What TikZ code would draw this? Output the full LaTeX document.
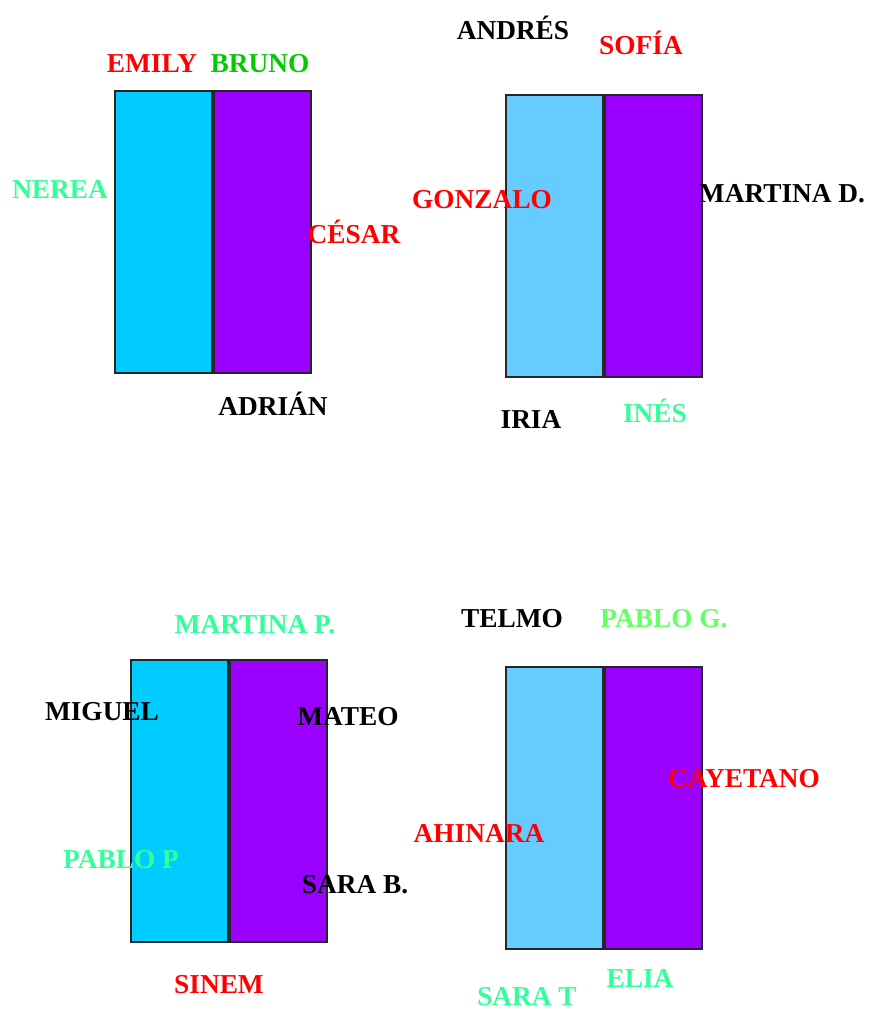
\documentclass[tikz,border=0pt]{standalone}
\usepackage{fontspec}
\setmainfont{Liberation Serif}
\usetikzlibrary{positioning}
\definecolor{deskcyan}{RGB}{0,204,255}
\definecolor{desksky}{RGB}{102,204,255}
\definecolor{deskviolet}{RGB}{153,0,255}
\definecolor{namemint}{RGB}{51,255,153}
\definecolor{namelime}{RGB}{102,255,102}
\definecolor{namegreen}{RGB}{0,204,0}
\tikzstyle{halfdesk}=[rectangle, draw=black!85, line width=1.5pt, inner sep=0pt,
                    minimum width=72.75pt, minimum height=211.5pt]
\tikzstyle{lbox}=[halfdesk, fill=deskcyan]
\tikzstyle{sbox}=[halfdesk, fill=desksky]
\tikzstyle{rbox}=[halfdesk, fill=deskviolet]
\tikzstyle{pupil}=[anchor=base, inner sep=0pt, font=\fontsize{20.5}{22}\selectfont\bfseries]

\begin{document}
\begin{tikzpicture}[x=0.75pt,y=-0.75pt]
\useasboundingbox (0,0) rectangle (868,1010);

\node (DESKAL) [lbox] at (163.5,231.5) {};
\node (DESKAR) [rbox,right=0pt of DESKAL] {};
\node (DESKBL) [sbox] at (554.5,235.5) {};
\node (DESKBR) [rbox,right=0pt of DESKBL] {};
\node (DESKCL) [lbox] at (179.5,800.5) {};
\node (DESKCR) [rbox,right=0pt of DESKCL] {};
\node (DESKDL) [sbox] at (554.5,807.5) {};
\node (DESKDR) [rbox,right=0pt of DESKDL] {};

\node (EMILY) [pupil,text=red] at (152,72) {EMILY};
\node (BRUNO) [pupil,text=namegreen] at (260,72) {BRUNO};
\node (NEREA) [pupil,text=namemint] at (60,198) {NEREA};
\node (CESAR) [pupil,text=red] at (354,243) {CÉSAR};
\node (ADRIAN) [pupil,text=black] at (273,415) {ADRIÁN};

\node (ANDRES) [pupil,text=black] at (513,39) {ANDRÉS};
\node (SOFIA) [pupil,text=red] at (641,54) {SOFÍA};
\node (GONZALO) [pupil,text=red] at (482,208) {GONZALO};
\node (MARTINAD) [pupil,text=black] at (782,202) {MARTINA D.};
\node (IRIA) [pupil,text=black] at (531,428) {IRIA};
\node (INES) [pupil,text=namemint] at (655,422) {INÉS};

\node (MARTINAP) [pupil,text=namemint] at (255,633) {MARTINA P.};
\node (MIGUEL) [pupil,text=black] at (102,720) {MIGUEL};
\node (MATEO) [pupil,text=black] at (348,725) {MATEO};
\node (PABLOP) [pupil,text=namemint] at (121,868) {PABLO P};
\node (SARAB) [pupil,text=black] at (355,893) {SARA B.};
\node (SINEM) [pupil,text=red] at (219,993) {SINEM};

\node (TELMO) [pupil,text=black] at (512,627) {TELMO};
\node (PABLOG) [pupil,text=namelime] at (664,627) {PABLO G.};
\node (CAYETANO) [pupil,text=red] at (744,787) {CAYETANO};
\node (AHINARA) [pupil,text=red] at (479,842) {AHINARA};
\node (SARAT) [pupil,text=namemint] at (527,1005) {SARA T};
\node (ELIA) [pupil,text=namemint] at (640,987) {ELIA};

\end{tikzpicture}
\end{document}
